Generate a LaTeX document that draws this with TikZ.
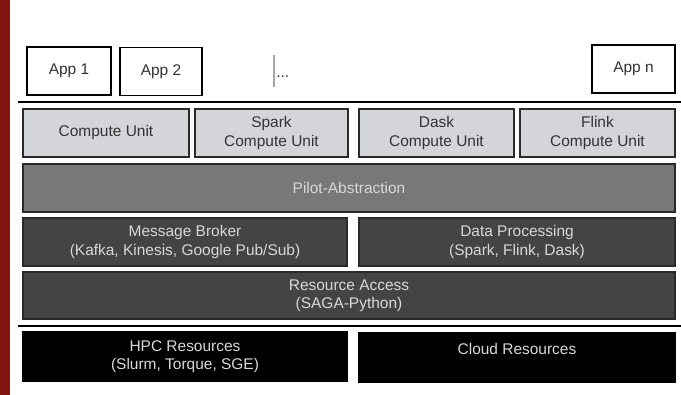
\documentclass[tikz,border=0pt]{standalone}
\usepackage{fontspec}
\setmainfont{Liberation Sans}
\definecolor{redbar}{HTML}{821712}
\definecolor{cufill}{HTML}{D3D5D9}
\definecolor{pilotfill}{HTML}{787878}
\definecolor{midfill}{HTML}{444444}
\definecolor{edge}{HTML}{2A2A2A}
\definecolor{lighttext}{HTML}{D8D8D8}
\definecolor{darktext}{HTML}{333333}
\begin{document}
\begin{tikzpicture}[x=0.75pt,y=-0.75pt,
  every node/.style={font=\fontsize{11.6}{13.6}\selectfont, align=center, inner sep=0pt},
  appbox/.style={draw=black, line width=1.2pt, fill=white, minimum height=36pt, text=darktext},
  cubox/.style={draw=edge, line width=1.1pt, fill=cufill, minimum height=36pt, text=darktext},
  pilotbox/.style={draw=edge, line width=1.1pt, fill=pilotfill, minimum height=36pt, text=lighttext},
  midbox/.style={draw=edge, line width=1.1pt, fill=midfill, minimum height=36pt, text=lighttext},
  resbox/.style={draw=black, line width=1.1pt, fill=black, minimum height=36.75pt, text=lighttext},
  sepline/.style={line width=2.2pt, black}
]
\useasboundingbox (0,0) rectangle (681,395);
\fill[redbar] (0,0) rectangle (10,395);

% apps
\node[appbox, minimum width=63pt] (app1) at (69,71) {App 1};
\node[appbox, minimum width=61.5pt] (app2) at (161,71.5) {App 2};
\node[appbox, minimum width=62pt] (appn) at (633.5,69) {App n};
\coordinate (cur1) at (274,55);
\coordinate (cur2) at (274,87);
\draw[line width=1.2pt, gray!70] (cur1) -- (cur2);
\node[anchor=base west, text=darktext] (dots) at (276,78) {...};

% separator 1
\coordinate (s1a) at (18,102);
\coordinate (s1b) at (681,102);
\draw[sepline] (s1a) -- (s1b);

% compute units
\node[cubox, minimum width=124.5pt] (cu) at (106,133) {Compute Unit};
\node[cubox, minimum width=114.75pt] (spark) at (271.5,133) {Spark\\Compute Unit};
\node[cubox, minimum width=116.25pt] (dask) at (436.5,133) {Dask\\Compute Unit};
\node[cubox, minimum width=116.25pt] (flink) at (597.5,133) {Flink\\Compute Unit};

% pilot
\node[pilotbox, minimum width=489pt] (pilot) at (349,188) {Pilot-Abstraction};

% middle
\node[midbox, minimum width=243pt] (mb) at (185,242) {Message Broker\\(Kafka, Kinesis, Google Pub/Sub)};
\node[midbox, minimum width=237pt] (dp) at (517,242) {Data Processing\\(Spark, Flink, Dask)};
\node[midbox, minimum width=489pt, minimum height=35.25pt] (ra) at (349,295.5) {Resource Access\\(SAGA-Python)};

% separator 2
\coordinate (s2a) at (18,326);
\coordinate (s2b) at (681,326);
\draw[sepline] (s2a) -- (s2b);

% resources
\node[resbox, minimum width=243pt] (hpc) at (185,356.5) {HPC Resources\\(Slurm, Torque, SGE)};
\node[resbox, minimum width=237pt] (cloud) at (517,357.5) {Cloud Resources\\\phantom{X}};
\end{tikzpicture}
\end{document}
